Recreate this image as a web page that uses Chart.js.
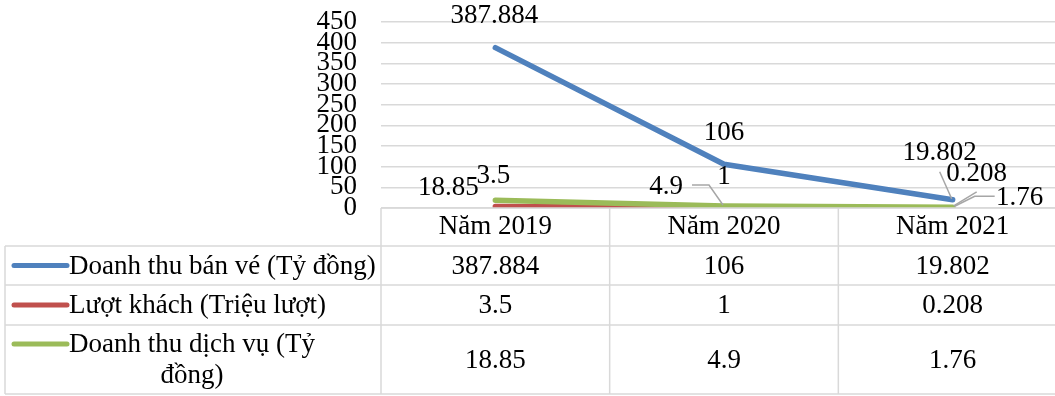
<!DOCTYPE html>
<html>
<head>
<meta charset="utf-8">
<script src="https://cdn.jsdelivr.net/npm/chart.js@4/dist/chart.umd.min.js"></script>
<style>
  html, body { margin: 0; padding: 0; background: #fff; overflow: hidden; }
  #wrap { width: 1070px; height: 396px; position: relative; }
</style>
</head>
<body>
<div id="wrap"><canvas id="c" width="1070" height="396"></canvas></div>
<script>
// Categories and series
const categories = ['Năm 2019', 'Năm 2020', 'Năm 2021'];
const seriesNames = ['Doanh thu bán vé (Tỷ đồng)', 'Lượt khách (Triệu lượt)', 'Doanh thu dịch vụ (Tỷ đồng)'];
const doanhThuBanVe = [387.884, 106, 19.802];
const luotKhach = [3.5, 1, 0.208];
const doanhThuDichVu = [18.85, 4.9, 1.76];
const yTickValues = [0, 50, 100, 150, 200, 250, 300, 350, 400, 450];

const seriesValues = [doanhThuBanVe, luotKhach, doanhThuDichVu];
const seriesColors = ['#4F81BD', '#C0504D', '#9BBB59'];

const FONT = '"Liberation Serif", "Times New Roman", serif';
const FS = 27;
const GRID = '#d9d9d9';

// Label placement relative to each point: [dx, dy] for text centre, optional leader polyline
const labelPlacement = [
  [ {dx: -1, dy: -32}, {dx: 0, dy: -31}, {dx: -13, dy: -47, leader: [[-13, -28], [-1, -1]]} ],
  [ {dx: -2, dy: -31}, {dx: 0, dy: -31}, {dx: 24, dy: -34, leader: [[1, -2], [24, -16]]} ],
  [ {dx: -47, dy: -12}, {dx: -58, dy: -19, leader: [[-32, -21], [-15, -21], [-1, -1]]}, {dx: 67, dy: -9, leader: [[2, -1], [22, -11], [42, -11]]} ]
];

function fmt(v) { return String(v); }

const dataLabelPlugin = {
  id: 'pointLabels',
  afterDatasetsDraw(chart) {
    const ctx = chart.ctx;
    ctx.save();
    ctx.font = FS + 'px ' + FONT;
    ctx.fillStyle = '#000';
    ctx.textAlign = 'center';
    ctx.textBaseline = 'middle';
    seriesValues.forEach((vals, i) => {
      const meta = chart.getDatasetMeta(i);
      vals.forEach((v, j) => {
        const p = meta.data[j];
        const spec = labelPlacement[i][j];
        if (spec.leader) {
          ctx.strokeStyle = '#a6a6a6';
          ctx.lineWidth = 1.5;
          ctx.beginPath();
          spec.leader.forEach(([lx, ly], k) => {
            if (k === 0) ctx.moveTo(p.x + lx, p.y + ly); else ctx.lineTo(p.x + lx, p.y + ly);
          });
          ctx.stroke();
        }
        ctx.fillText(fmt(v), p.x + spec.dx, p.y + spec.dy);
      });
    });
    ctx.restore();
  }
};

function wrapText(ctx, text, maxW) {
  const words = text.split(' ');
  const lines = [];
  let cur = '';
  words.forEach(w => {
    const t = cur ? cur + ' ' + w : w;
    if (ctx.measureText(t).width > maxW && cur) { lines.push(cur); cur = w; }
    else cur = t;
  });
  if (cur) lines.push(cur);
  return lines;
}

// Data table under the plot
const dataTablePlugin = {
  id: 'dataTable',
  afterDraw(chart) {
    const ctx = chart.ctx;
    const a = chart.chartArea;
    const n = categories.length;
    const colW = (a.right - a.left) / n;
    const tableLeft = 5;
    const headerBottom = a.bottom + 38;
    const rowHeights = [39, 40, 69];
    const rowTops = [headerBottom];
    rowHeights.forEach((h, k) => rowTops.push(rowTops[k] + h));
    const tableBottom = rowTops[rowTops.length - 1];

    ctx.save();
    ctx.strokeStyle = GRID;
    ctx.lineWidth = 1.5;
    ctx.beginPath();
    // horizontal rules
    ctx.moveTo(a.left, a.bottom); ctx.lineTo(a.right, a.bottom);
    rowTops.forEach(y => { ctx.moveTo(tableLeft, y); ctx.lineTo(a.right, y); });
    // vertical rules
    ctx.moveTo(tableLeft, headerBottom); ctx.lineTo(tableLeft, tableBottom);
    for (let c = 0; c <= n; c++) {
      const x = a.left + c * colW;
      ctx.moveTo(x, a.bottom); ctx.lineTo(x, tableBottom);
    }
    ctx.stroke();

    ctx.font = FS + 'px ' + FONT;
    ctx.fillStyle = '#000';
    ctx.textBaseline = 'middle';
    ctx.textAlign = 'center';
    const xScale = chart.scales.x;
    categories.forEach((cat, c) => {
      ctx.fillText(cat, xScale.getPixelForValue(c), (a.bottom + headerBottom) / 2);
    });

    seriesNames.forEach((name, r) => {
      const top = rowTops[r];
      const h = rowHeights[r];
      const lines = wrapText(ctx, name, 310);
      const lh = 31;
      const firstY = top + h / 2 - (lines.length - 1) * lh / 2;
      // legend key
      ctx.strokeStyle = seriesColors[r];
      ctx.lineWidth = 5;
      ctx.lineCap = 'round';
      ctx.beginPath();
      ctx.moveTo(14, firstY);
      ctx.lineTo(67, firstY);
      ctx.stroke();
      // series name, lines centred inside a left-anchored block
      const blockW = Math.max(...lines.map(l => ctx.measureText(l).width));
      const textLeft = 69;
      lines.forEach((l, k) => {
        ctx.textAlign = 'center';
        ctx.fillText(l, textLeft + blockW / 2, firstY + k * lh + 1);
      });
      // values
      seriesValues[r].forEach((v, c) => {
        ctx.fillText(fmt(v), xScale.getPixelForValue(c), top + h / 2 + 1);
      });
    });
    ctx.restore();
  }
};

new Chart(document.getElementById('c'), {
  type: 'line',
  data: {
    labels: categories,
    datasets: seriesNames.map((name, i) => ({
      label: name,
      data: seriesValues[i],
      borderColor: seriesColors[i],
      backgroundColor: seriesColors[i],
      borderWidth: 5.5,
      borderCapStyle: 'round',
      borderJoinStyle: 'round',
      pointRadius: 0,
      tension: 0,
      order: seriesNames.length - 1 - i
    }))
  },
  options: {
    responsive: false,
    animation: false,
    layout: { padding: { left: 0, right: 3, top: 22, bottom: 188 } },
    plugins: { legend: { display: false }, tooltip: { enabled: false } },
    scales: {
      x: { type: 'category', offset: true, display: false },
      y: {
        min: 0,
        max: 450,
        afterBuildTicks(scale) { scale.ticks = yTickValues.map(v => ({ value: v })); },
        afterFit(scale) {
          scale.width = 381;
          scale.paddingTop = 0;
          scale.paddingBottom = 0;
        },
        border: { display: false },
        grid: { color: GRID, lineWidth: 1.5, drawTicks: false },
        ticks: {
          autoSkip: false,
          padding: 24,
          color: '#000',
          font: { family: FONT, size: FS, lineHeight: 0.8 }
        }
      }
    }
  },
  plugins: [dataLabelPlugin, dataTablePlugin]
});
</script>
</body>
</html>
